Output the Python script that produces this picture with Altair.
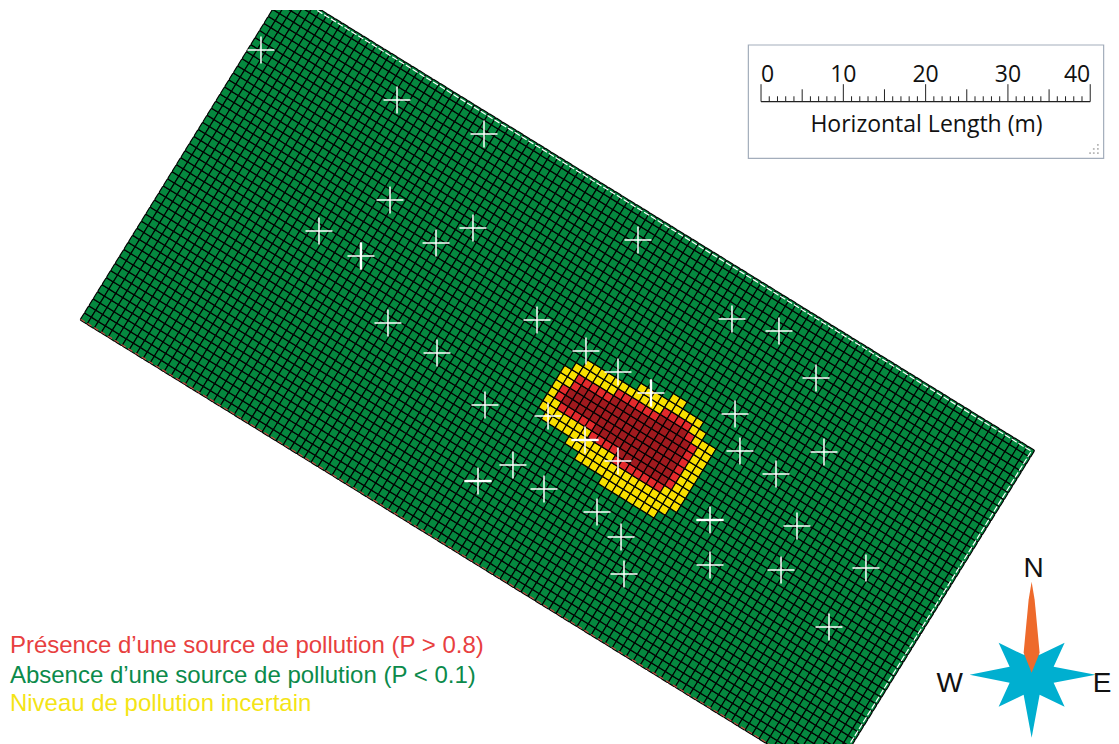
import altair as alt
import pandas as pd

PPM = 8.23
W, H = 1103, 734
XDOM = [8 / PPM, 1111 / PPM]
YDOM = [744 / PPM, 10 / PPM]

# mesh frame
ORIGIN = (9.72, 38.88)
U = (0.8505, 0.5249)
V = (0.532, -0.858)
NU, NV = 107, 47

# per mesh row: first and last+1 cell of the uncertain and the source zones
Y_ROW = [16, 17, 18, 19, 20, 21, 22, 23, 24, 25, 26, 27, 28, 29]
Y_START = [64, 60, 58, 54, 53, 53, 53, 53, 53, 53, 54, 55, 62, 66]
Y_END = [72, 73, 74, 74, 74, 74, 74, 74, 74, 74, 74, 72, 71, 68]
R_ROW = [19, 20, 21, 22, 23, 24, 25, 26, 27]
R_START = [64, 60, 55, 54, 54, 55, 55, 60, 66]
R_END = [71, 72, 72, 72, 72, 72, 72, 71, 70]

WELL_X = [31.71, 48.24, 58.81, 47.39, 38.76, 43.86, 52.98, 57.47, 77.52, 47.14, 65.25, 53.10, 88.94,
          94.65, 71.20, 75.09, 79.10, 99.15, 58.93, 66.59, 89.31, 71.08, 89.91, 100.12, 75.09, 94.29,
          62.33, 58.08, 66.10, 72.54, 86.27, 96.84, 75.46, 86.27, 94.90, 105.22, 75.82, 100.73]
WELL_Y = [6.08, 12.15, 16.28, 24.30, 28.07, 31.11, 29.53, 27.70, 29.16, 39.25, 38.88, 42.89, 38.76,
          40.22, 42.65, 45.20, 47.75, 45.93, 49.21, 50.55, 50.30, 53.46, 54.80, 54.92, 56.01, 57.59,
          56.50, 58.45, 59.42, 62.21, 63.18, 63.91, 65.25, 68.65, 69.26, 69.02, 69.74, 76.18]
THICK_H = [21, 27, 30]   # wells whose horizontal arm is heavier
THICK_V = [5, 16]        # wells whose vertical arm is heavier

LEGEND_TEXT = ["Présence d’une source de pollution (P > 0.8)",
               "Absence d’une source de pollution (P < 0.1)",
               "Niveau de pollution incertain"]
LEGEND_COLOR = ["#e8403f", "#0b8a4b", "#f4e416"]
LEGEND_Y = [79.34, 82.99, 86.45]
LEGEND_X = 1.2

BAR_X0 = 92.47
BAR_BASE_Y = 12.35
BAR_LABELS = [0, 10, 20, 30, 40]
BOX = dict(x=90.93, x2=134.1, y=5.47, y2=19.24)

COMPASS_X, COMPASS_Y = 125.35, 82.0


def to_map(u, v):
    return ORIGIN[0] + u * U[0] + v * V[0], ORIGIN[1] + u * U[1] + v * V[1]


yellow = set()
for r, a, b in zip(Y_ROW, Y_START, Y_END):
    yellow |= {(i, r) for i in range(a, b)}
red = set()
for r, a, b in zip(R_ROW, R_START, R_END):
    red |= {(i, r) for i in range(a, b)}

rows = []
for i in range(NU):
    for j in range(NV):
        x, y = to_map(i + .5, j + .5)
        if not (-1 < x * PPM < 1125 and 2 < y * PPM < 755):
            continue
        c = "absent"
        if (i, j) in red:
            edge = any(n not in red for n in [(i + 1, j), (i - 1, j), (i, j + 1), (i, j - 1)])
            c = "edge" if edge else "source"
        elif (i, j) in yellow:
            c = "uncertain"
        rows.append(dict(x=round(x, 3), y=round(y, 3), c=c))
cells = pd.DataFrame(rows)

sx = alt.Scale(domain=XDOM, nice=False, zero=False)
sy = alt.Scale(domain=YDOM, nice=False, zero=False)
X = alt.X("x:Q", scale=sx, axis=None)
Y = alt.Y("y:Q", scale=sy, axis=None)
CELL = "M-.7,-1L.7,-1Q1,-1 1,-.7L1,.7Q1,1 .7,1L-.7,1Q-1,1 -1,.7L-1,-.7Q-1,-1 -.7,-1Z"

mesh = alt.Chart(cells).mark_point(shape=CELL, angle=31.7, filled=True, size=68, stroke="black",
                                   strokeWidth=1.15, opacity=1, clip=True, strokeJoin="round").encode(
    x=X, y=Y,
    fill=alt.Fill("c:N", legend=None, scale=alt.Scale(domain=["absent", "uncertain", "edge", "source"],
                                                       range=["#05883f", "#f9e000", "#e32a2c", "#a01a1e"])))


def edge_line(pts, color, width, dash):
    d = pd.DataFrame([dict(zip("xy", to_map(*p)), o=k) for k, p in enumerate(pts)])
    return alt.Chart(d).mark_line(color=color, strokeWidth=width, strokeDash=dash, clip=True).encode(
        x=X, y=Y, order="o:Q")


white_edge = edge_line([(0.8, NV - 0.3), (NU - 0.3, NV - 0.3), (NU - 0.3, 0)], "white", 1.2, [6, 2])
red_edge = edge_line([(0, 0.12), (NU, 0.12)], "#c8453f", 1.1, [5, 3])

wells = pd.DataFrame({"x": WELL_X, "y": WELL_Y})
cross = alt.Chart(wells).mark_point(shape="M-1,0L1,0M0,-1L0,1", size=729, stroke="white", strokeWidth=1.5,
                                    opacity=1).encode(x=X, y=Y)
thick_h = alt.Chart(wells.iloc[THICK_H]).mark_point(shape="M-1,0L1,0", size=729, stroke="white", strokeWidth=2.4,
                                                    opacity=1).encode(x=X, y=Y)
thick_v = alt.Chart(wells.iloc[THICK_V]).mark_point(shape="M0,-1L0,1", size=729, stroke="white", strokeWidth=2.4,
                                                    opacity=1).encode(x=X, y=Y)

legend = alt.Chart(pd.DataFrame({"t": LEGEND_TEXT, "c": LEGEND_COLOR, "y": LEGEND_Y, "x": [LEGEND_X] * 3})).mark_text(
    font="Liberation Sans", fontSize=24, align="left", baseline="alphabetic").encode(
    x=X, y=Y, text="t:N", color=alt.Color("c:N", scale=None))

box = alt.Chart(pd.DataFrame([BOX])).mark_rect(fill="white", stroke="#a3adbb", strokeWidth=1.2).encode(
    x=X, x2="x2:Q", y=Y, y2="y2:Q")

ticks = pd.DataFrame([dict(x=BAR_X0 + m, y=BAR_BASE_Y,
                           y2=BAR_BASE_Y - (2.12 if m % 10 == 0 else 1.5 if m % 5 == 0 else 0.65))
                      for m in range(0, 41)])
bar_ticks = alt.Chart(ticks).mark_rule(color="#222222", strokeWidth=1).encode(x=X, y=Y, y2="y2:Q")
bar_base = alt.Chart(pd.DataFrame({"x": [BAR_X0], "x2": [BAR_X0 + 40], "y": [BAR_BASE_Y]})).mark_rule(
    color="#222222", strokeWidth=1.2).encode(x=X, x2="x2:Q", y=Y)


def bar_label(vals, align, dx=0):
    d = pd.DataFrame({"x": [BAR_X0 + v for v in vals], "y": [9.93] * len(vals), "t": [str(v) for v in vals]})
    return alt.Chart(d).mark_text(font="Open Sans", fontSize=23, align=align, dx=dx, baseline="alphabetic",
                                  color="#111111").encode(x=X, y=Y, text="t:N")


bar_title = alt.Chart(pd.DataFrame({"x": [BAR_X0 + 20.1], "y": [16.0], "t": ["Horizontal Length (m)"]})).mark_text(
    font="Open Sans", fontSize=23, align="center", baseline="alphabetic", color="#111111").encode(
    x=X, y=Y, text="t:N")

grip = alt.Chart(pd.DataFrame({"x": [133.4, 133.4, 132.9, 133.4, 132.9, 132.45],
                               "y": [17.6, 18.1, 18.1, 18.6, 18.6, 18.6]})).mark_point(
    shape="square", filled=True, size=3, color="#b5b5b5", opacity=1).encode(x=X, y=Y)

# glyph outlines in pixels: size 4 gives unit scale for a custom path
STAR = ("M0,-22L8,-20L33,-32L22,-8L64,0L22,8L33,32L8,20L0,63L-8,20L-33,32L-22,8L-62,0L-22,-8L-33,-32L-8,-20Z")
NEEDLE = "M0,-93L3,-75L8,-22L0,-2L-8,-22L-3,-75Z"
compass_pt = pd.DataFrame({"x": [COMPASS_X], "y": [COMPASS_Y]})
star = alt.Chart(compass_pt).mark_point(shape=STAR, size=4, filled=True, fill="#00afd0", stroke="#00afd0",
                                        strokeWidth=0, opacity=1).encode(x=X, y=Y)
needle = alt.Chart(compass_pt).mark_point(shape=NEEDLE, size=4, filled=True, fill="#ee6a2b", stroke="#ee6a2b",
                                          strokeWidth=0, opacity=1).encode(x=X, y=Y)
comp_lab = alt.Chart(pd.DataFrame({"x": [125.6, 115.4, 133.9], "y": [70.07, 84.05, 84.05], "t": ["N", "W", "E"]})).mark_text(
    font="Liberation Sans", fontSize=28, align="center", baseline="alphabetic", color="#111111").encode(
    x=X, y=Y, text="t:N")

chart = alt.layer(mesh, white_edge, red_edge, cross, thick_h, thick_v, legend, box, bar_base, bar_ticks,
                  bar_label([0], "left"), bar_label([10, 20, 30], "center"), bar_label([40], "right"),
                  bar_title, grip, star, needle, comp_lab).properties(
    width=W, height=H, autosize="none", padding={"left": 0, "right": 0, "top": 2, "bottom": 0},
    background="white"
).configure_view(strokeWidth=0, stroke="transparent")

chart.save("out.html", embed_options={"renderer": "svg", "actions": False})
